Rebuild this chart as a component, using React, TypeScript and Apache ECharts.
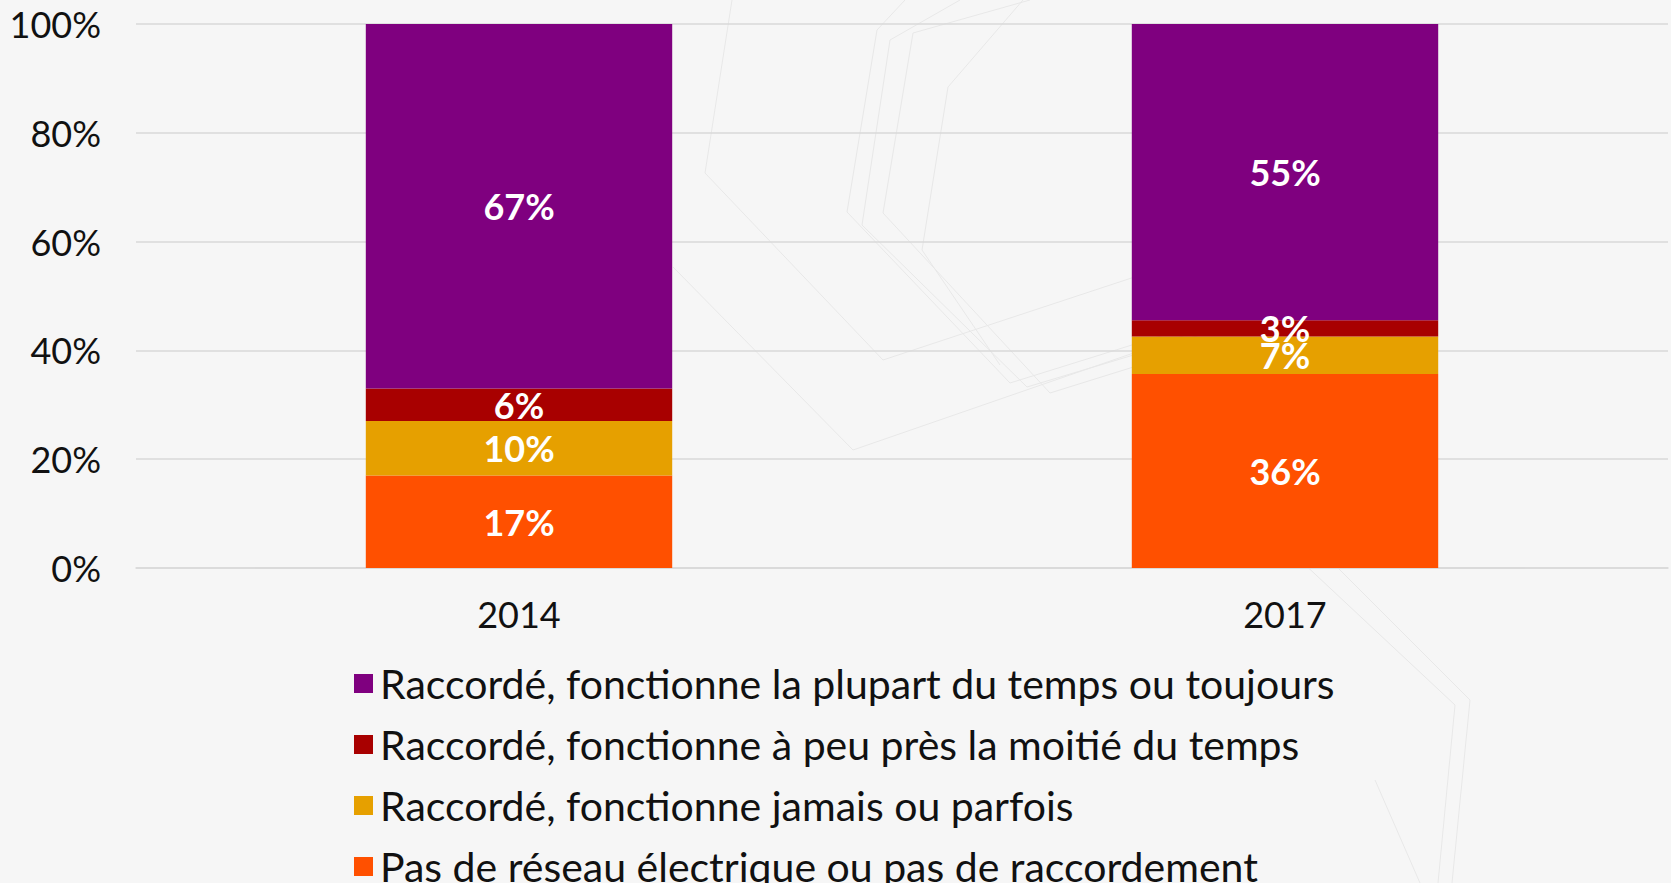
import React, { useEffect, useRef } from "react";
import * as echarts from "echarts";

const categories = ["2014", "2017"];
const seriesNames = [
  "Pas de réseau électrique ou pas de raccordement",
  "Raccordé, fonctionne jamais ou parfois",
  "Raccordé, fonctionne à peu près la moitié du temps",
  "Raccordé, fonctionne la plupart du temps ou toujours",
];
const pasDeReseau = [17, 36];
const jamaisParfois = [10, 7];
const moitieTemps = [6, 3];
const plupartTemps = [67, 55];
const colors = ["#FF5000", "#E6A000", "#A80000", "#7F007F"];
const yTicks = [0, 20, 40, 60, 80, 100];

const FONT = "Lato, 'Noto Sans', sans-serif";

export default function App() {
  const ref = useRef<HTMLDivElement>(null);
  useEffect(() => {
    if (!ref.current) return;
    const chart = echarts.init(ref.current, undefined, { renderer: "svg" });
    const raw = [pasDeReseau, jamaisParfois, moitieTemps, plupartTemps];
    const totals = categories.map((_, i) => raw.reduce((s, a) => s + a[i], 0));
    const series = raw.map((arr, k) => ({
      name: seriesNames[k],
      type: "bar",
      stack: "total",
      barWidth: "40%",
      itemStyle: { color: colors[k] },
      data: arr.map((v, i) => (v / totals[i]) * 100),
      label: {
        show: true,
        position: "inside",
        color: "#ffffff",
        fontFamily: FONT,
        fontWeight: "bold",
        fontSize: 36,
        formatter: (p: any) => `${arr[p.dataIndex]}%`,
      },
    }));
    const faint = { stroke: "#e8e8e8", lineWidth: 1, fill: "none" };
    const bgLines = [
      [[732, 0], [705, 173], [883, 360], [1180, 262]],
      [[673, 267], [853, 450], [1200, 330]],
      [[905, 0], [877, 30], [847, 212], [1010, 383], [1180, 330]],
      [[960, 0], [890, 40], [862, 225], [1027, 387], [1200, 335]],
      [[1030, 0], [913, 33], [883, 213], [1050, 393], [1220, 340]],
      [[1023, 0], [948, 87], [922, 250], [1000, 365]],
      [[1300, 560], [1455, 705], [1438, 883]],
      [[1330, 560], [1470, 700], [1452, 883]],
      [[1375, 780], [1420, 883]],
    ];
    chart.setOption({
      animation: false,
      backgroundColor: "transparent",
      graphic: bgLines.map((pts) => ({
        type: "polyline",
        silent: true,
        z: -10,
        shape: { points: pts },
        style: faint,
      })),
      grid: { left: 136, right: 3, top: 24, bottom: 315, containLabel: false },
      legend: {
        orient: "vertical",
        left: 349,
        top: 658,
        height: 320,
        itemWidth: 19,
        itemHeight: 19,
        itemGap: 20,
        icon: "rect",
        data: [seriesNames[3], seriesNames[2], seriesNames[1], seriesNames[0]],
        textStyle: { fontFamily: FONT, fontSize: 41, color: "#111", lineHeight: 40, padding: [0, 0, 0, 2] },
      },
      xAxis: {
        type: "category",
        data: categories,
        axisTick: { show: false },
        axisLine: { lineStyle: { color: "#d9d9d9", width: 1.5 } },
        axisLabel: { fontFamily: FONT, fontSize: 36, color: "#111", margin: 28 },
      },
      yAxis: {
        type: "value",
        min: yTicks[0],
        max: yTicks[yTicks.length - 1],
        interval: 20,
        axisLabel: { fontFamily: FONT, fontSize: 36, color: "#111", margin: 35, formatter: "{value}%" },
        splitLine: { lineStyle: { color: "#d9d9d9", width: 1.5 } },
        axisLine: { show: false },
        axisTick: { show: false },
      },
      series,
    });
    return () => chart.dispose();
  }, []);
  return (
    <div
      style={{ position: "absolute", left: 0, top: 0, width: 1671, height: 883, background: "#f6f6f6" }}
    >
      <div ref={ref} style={{ width: 1671, height: 883 }} />
    </div>
  );
}
